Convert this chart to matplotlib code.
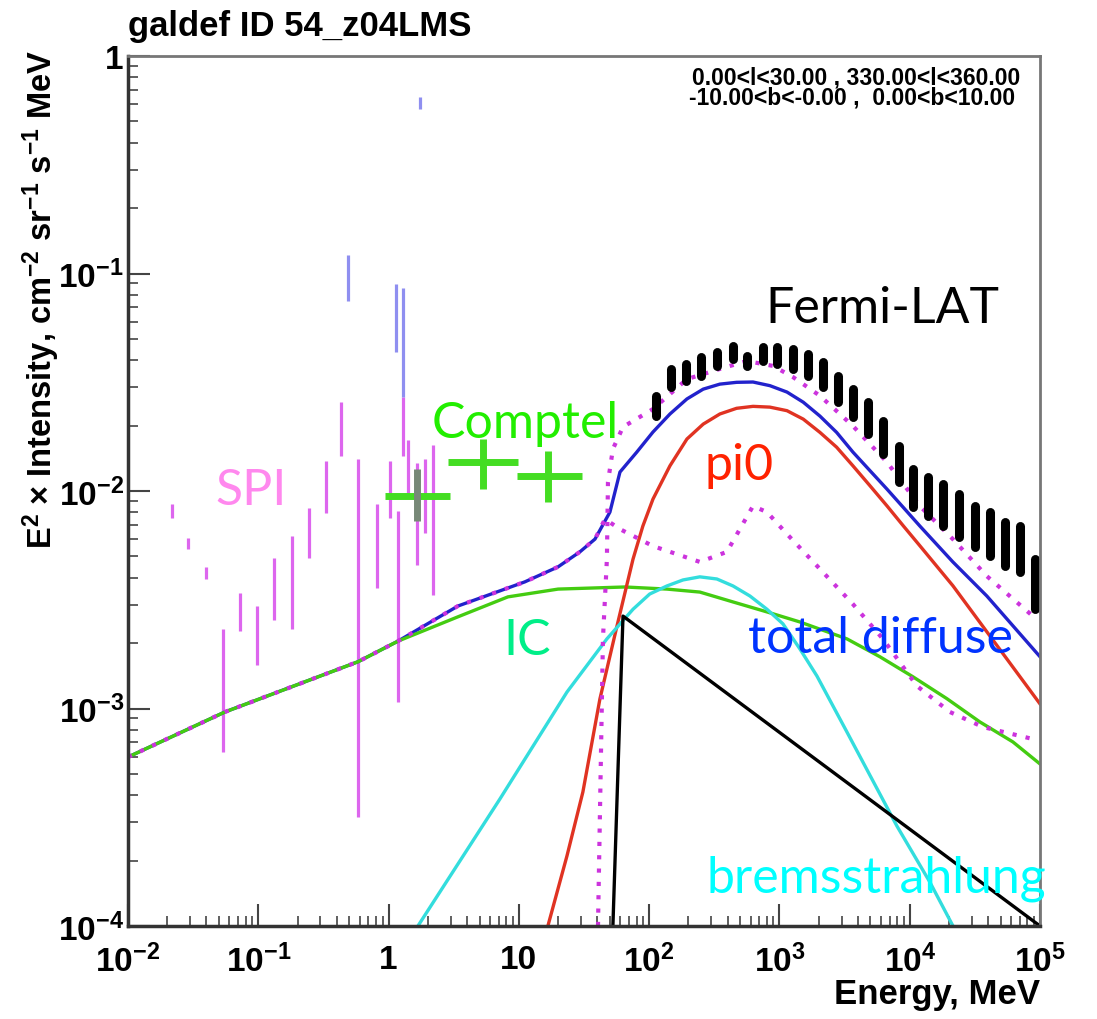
import numpy as np
import matplotlib
matplotlib.use('Agg')
import matplotlib.pyplot as plt
from matplotlib.ticker import FixedLocator, FixedFormatter, NullFormatter, LogLocator

W, H = 1097, 1020

plt.rcParams['font.family'] = ['Liberation Sans', 'DejaVu Sans']
plt.rcParams['font.weight'] = 'bold'
plt.rcParams['mathtext.fontset'] = 'custom'
plt.rcParams['mathtext.rm'] = 'Liberation Sans:bold'
plt.rcParams['mathtext.it'] = 'Liberation Sans:bold'
plt.rcParams['mathtext.bf'] = 'Liberation Sans:bold'

# model curves, energy in MeV, E^2 x intensity
ic_e = [0.01, 0.0555, 0.582, 1.18, 3.41, 8.24, 20.0, 65.2, 137, 245, 440, 802, 1435, 3296,
        5900, 10570, 19280, 34600, 61940, 1e5]
ic_i = [5.98e-4, 9.64e-4, 1.64e-3, 2.04e-3, 2.64e-3, 3.26e-3, 3.54e-3, 3.62e-3, 3.54e-3,
        3.43e-3, 3.09e-3, 2.78e-3, 2.50e-3, 2.09e-3, 1.73e-3, 1.40e-3, 1.11e-3, 8.67e-4,
        7.02e-4, 5.56e-4]

total_e = [0.01, 0.0555, 0.582, 1.18, 3.41, 11.1, 20.0, 29.4, 38.4, 50.0, 59.7, 80.2, 107,
           144.5, 195, 260, 349, 469, 627, 845, 1143, 1524, 2046, 2748, 3664, 4955, 6683,
           8918, 11967, 21430, 39080, 1e5]
total_i = [5.98e-4, 9.64e-4, 1.64e-3, 2.04e-3, 2.96e-3, 3.82e-3, 4.48e-3, 5.25e-3, 6.01e-3,
           8.0e-3, 0.01222, 0.01507, 0.01867, 0.0226, 0.0265, 0.0294, 0.0310, 0.0316, 0.0317,
           0.0305, 0.0285, 0.0256, 0.0221, 0.0186, 0.0151, 0.0124, 0.01021, 8.41e-3, 6.90e-3,
           4.72e-3, 3.29e-3, 1.73e-3]

pi0_e = [16.7, 23.4, 31.0, 41.9, 56.6, 75.2, 89.5, 107, 144.5, 195, 260, 349, 469, 627, 845,
         1143, 1524, 2046, 2748, 3664, 4955, 6683, 8918, 11967, 21430, 1e5]
pi0_i = [1e-4, 2.10e-4, 4.13e-4, 1.107e-3, 2.39e-3, 4.86e-3, 6.90e-3, 9.18e-3, 0.01306,
         0.01734, 0.0203, 0.0226, 0.0240, 0.0245, 0.0243, 0.0234, 0.0214, 0.0186, 0.0159,
         0.01306, 0.01057, 8.55e-3, 6.92e-3, 5.60e-3, 3.67e-3, 1.05e-3]

brems_e = [1.68, 7.16, 23.4, 47.4, 75.2, 101, 137, 182, 245, 331, 440, 594, 802, 1064, 1435,
           1941, 3296, 7980, 14290, 21480]
brems_i = [1e-4, 3.84e-4, 1.19e-3, 2.09e-3, 2.86e-3, 3.36e-3, 3.66e-3, 3.90e-3, 4.03e-3,
           3.94e-3, 3.66e-3, 3.29e-3, 2.86e-3, 2.45e-3, 1.88e-3, 1.41e-3, 7.80e-4,
           2.88e-4, 1.59e-4, 1e-4]

black_e = [52.7, 63.0, 1e5]
black_i = [1e-4, 2.66e-3, 1e-4]

dot_hi_e = [40.5, 44.2, 47.4, 48.3, 52.7, 63.0, 107, 195, 349, 562, 891, 1271, 2046, 3664,
            6683, 11967, 21430, 39080, 88100]
dot_hi_i = [1e-4, 2.09e-3, 4.86e-3, 0.0110, 0.0156, 0.0197, 0.0238, 0.0327, 0.0364, 0.0396,
            0.0376, 0.0334, 0.0274, 0.0199, 0.01358, 8.53e-3, 6.01e-3, 4.06e-3, 2.66e-3]

dot_lo_e = [0.01, 0.0555, 0.582, 1.18, 3.41, 11.1, 20.0, 29.4, 38.4, 45.8, 59.7, 107, 245, 395,
            627, 802, 1143, 2046, 3664, 6223, 11350, 20320, 36480, 88100]
dot_lo_i = [5.98e-4, 9.64e-4, 1.64e-3, 2.04e-3, 2.96e-3, 3.82e-3, 4.48e-3, 5.25e-3, 6.01e-3,
            7.43e-3, 6.68e-3, 5.58e-3, 4.72e-3, 5.25e-3, 8.53e-3, 8.0e-3, 6.34e-3, 4.38e-3,
            3.02e-3, 2.09e-3, 1.27e-3, 9.64e-4, 8.22e-4, 7.24e-4]

# Fermi-LAT data bars
fermi_e = [113, 146, 191, 248, 330, 438, 566, 743, 962, 1262, 1663, 2148, 2825, 3681, 4797,
           6266, 8299, 10641, 13868, 18072, 23988, 31623, 41210, 53827, 70146, 91411]
fermi_hi = [0.0273, 0.0364, 0.0384, 0.0413, 0.0436, 0.0464, 0.0418, 0.0459, 0.0459, 0.0450,
            0.0427, 0.0392, 0.0338, 0.0294, 0.0257, 0.0210, 0.0161, 0.0126, 0.0116, 0.0108,
            0.00969, 0.00853, 0.00800, 0.00719, 0.00690, 0.00486]
fermi_lo = [0.0221, 0.0301, 0.0321, 0.0338, 0.0376, 0.0405, 0.0376, 0.0396, 0.0384, 0.0364,
            0.0338, 0.0301, 0.0257, 0.0219, 0.0183, 0.0148, 0.0110, 0.00844, 0.00767, 0.00690,
            0.00615, 0.00553, 0.00502, 0.00452, 0.00425, 0.00287]

# SPI data bars
spi_e = [0.0216, 0.0290, 0.0397, 0.0540, 0.0725, 0.0973, 0.133, 0.181, 0.245, 0.329, 0.429,
         0.585, 0.811, 1.03, 1.19, 1.30, 1.42, 1.64, 1.90, 2.20]
spi_hi = [8.71e-3, 6.08e-3, 4.49e-3, 2.32e-3, 3.41e-3, 2.96e-3, 4.9e-3, 6.21e-3, 8.31e-3,
          0.01374, 0.02575, 0.01410, 8.71e-3, 0.01374, 8.09e-3, 0.02704, 0.01716, 0.01345,
          0.01410, 0.01626]
spi_lo = [7.55e-3, 5.41e-3, 3.94e-3, 6.31e-4, 2.27e-3, 1.58e-3, 2.55e-3, 2.32e-3, 4.9e-3,
          7.92e-3, 0.01449, 3.17e-4, 3.58e-3, 7.55e-3, 1.07e-3, 0.01449, 9.84e-3, 4.57e-3,
          6.38e-3, 3.33e-3]

# upper parts drawn in lavender
spi2_e = [0.491, 1.14, 1.30, 1.74]
spi2_hi = [0.1216, 0.0899, 0.0858, 0.648]
spi2_lo = [0.0748, 0.0436, 0.0270, 0.571]

# Comptel crosses
comptel_e = [1.65, 5.31, 16.7]
comptel_elo = [0.937, 2.86, 9.66]
comptel_ehi = [2.96, 9.84, 30.5]
comptel_i = [9.45e-3, 0.01355, 0.01175]
comptel_lo = [7.28e-3, 0.01021, 8.9e-3]
comptel_hi = [0.0126, 0.01734, 0.01528]

xticks = [1e-2, 1e-1, 1, 10, 1e2, 1e3, 1e4, 1e5]
xlabels = [r'$10^{-2}$', r'$10^{-1}$', '1', '10', r'$10^{2}$', r'$10^{3}$', r'$10^{4}$', r'$10^{5}$']
yticks = [1e-4, 1e-3, 1e-2, 1e-1, 1]
ylabels = [r'$10^{-4}$', r'$10^{-3}$', r'$10^{-2}$', r'$10^{-1}$', '1']

fig = plt.figure(figsize=(W / 100, H / 100), dpi=100)
ax = fig.add_axes([128 / W, 1 - 927 / H, (1040 - 128) / W, (927 - 57) / H])
ax.set_xscale('log')
ax.set_yscale('log')
ax.set_xlim(1e-2, 1e5)
ax.set_ylim(1e-4, 1)

# data points
ax.vlines(spi_e, spi_lo, spi_hi, colors='#dd66ee', linewidth=2.3)
ax.vlines(spi2_e, spi2_lo, spi2_hi, colors='#8f8ff0', linewidth=2.3)
ax.hlines(comptel_i, comptel_elo, comptel_ehi, colors='#44dd22', linewidth=5)
ax.vlines(comptel_e[1:], comptel_lo[1:], comptel_hi[1:], colors='#44dd22', linewidth=5)
ax.vlines(comptel_e[:1], comptel_lo[:1], comptel_hi[:1], colors='#778877', linewidth=5)

# model curves
lw = 2.4
ax.plot(total_e, total_i, color='#2222cc', lw=lw)
ax.plot(ic_e, ic_i, color='#44cc11', lw=lw)
ax.plot(pi0_e, pi0_i, color='#e03322', lw=lw)
ax.plot(brems_e, brems_i, color='#33dddd', lw=lw)
ax.plot(black_e, black_i, color='black', lw=lw)
ax.plot(dot_hi_e, dot_hi_i, color='#cc33dd', lw=3, ls=(0, (1, 2.2)))
ax.plot(dot_lo_e, dot_lo_i, color='#cc33dd', lw=3, ls=(0, (1, 2.2)))

ax.vlines(fermi_e, fermi_lo, fermi_hi, colors='black', linewidth=6.5, capstyle='round')

# axes style
for side in ['left', 'bottom']:
    ax.spines[side].set_color('#333333')
    ax.spines[side].set_linewidth(2.5)
for side in ['top', 'right']:
    ax.spines[side].set_color('#777777')
    ax.spines[side].set_linewidth(2.0)

ax.xaxis.set_major_locator(FixedLocator(xticks))
ax.xaxis.set_major_formatter(FixedFormatter(xlabels))
ax.yaxis.set_major_locator(FixedLocator(yticks))
ax.yaxis.set_major_formatter(FixedFormatter(ylabels))
ax.xaxis.set_minor_locator(LogLocator(base=10, subs=np.arange(2, 10), numticks=20))
ax.yaxis.set_minor_locator(LogLocator(base=10, subs=np.arange(2, 10), numticks=20))
ax.xaxis.set_minor_formatter(NullFormatter())
ax.yaxis.set_minor_formatter(NullFormatter())
ax.tick_params(which='both', direction='in', top=False, right=False, color='#444444')
ax.tick_params(which='major', length=16, width=1.5, labelsize=24)
ax.tick_params(which='minor', length=7.5, width=1.2)
ax.tick_params(axis='x', which='major', pad=13)
ax.tick_params(axis='y', which='major', pad=3)


def fpos(x, y):
    return x / W, 1 - y / H


fig.text(*fpos(128, 36), 'galdef ID 54_z04LMS', fontsize=25, fontweight='bold', ha='left',
         va='baseline')
fig.text(*fpos(1020, 84), '0.00<l<30.00 , 330.00<l<360.00', fontsize=16.5, fontweight='bold',
         ha='right', va='baseline')
fig.text(*fpos(1015, 105), '-10.00<b<-0.00 ,  0.00<b<10.00', fontsize=16.5, fontweight='bold',
         ha='right', va='baseline')
fig.text(*fpos(1040, 1004), 'Energy, MeV', fontsize=25, fontweight='bold', ha='right',
         va='baseline')
fig.text(*fpos(41, 50), r'E$^{2}$ × Intensity, cm$^{-2}$ sr$^{-1}$ s$^{-1}$ MeV', fontsize=23.5,
         fontweight='bold', rotation=90, ha='center', va='top')

afont = ['Lato', 'DejaVu Sans']
fs = 36
fig.text(*fpos(765, 323), 'Fermi-LAT', color='black', fontsize=fs, family=afont,
         fontweight='normal', va='baseline')
fig.text(*fpos(432, 438), 'Comptel', color='#22ee00', fontsize=fs, family=afont,
         fontweight='normal', va='baseline')
fig.text(*fpos(215, 505), 'SPI', color='#ff88ee', fontsize=fs, family=afont,
         fontweight='normal', va='baseline')
fig.text(*fpos(705, 480), 'pi0', color='#ff2200', fontsize=fs, family=afont,
         fontweight='normal', va='baseline')
fig.text(*fpos(503, 655), 'IC', color='#00ee88', fontsize=fs, family=afont,
         fontweight='normal', va='baseline')
fig.text(*fpos(748, 653), 'total diffuse', color='#0033ff', fontsize=fs, family=afont,
         fontweight='normal', va='baseline')
fig.text(*fpos(707, 893), 'bremsstrahlung', color='#00ffff', fontsize=fs, family=afont,
         fontweight='normal', va='baseline')

fig.savefig('out.png', dpi=100)
